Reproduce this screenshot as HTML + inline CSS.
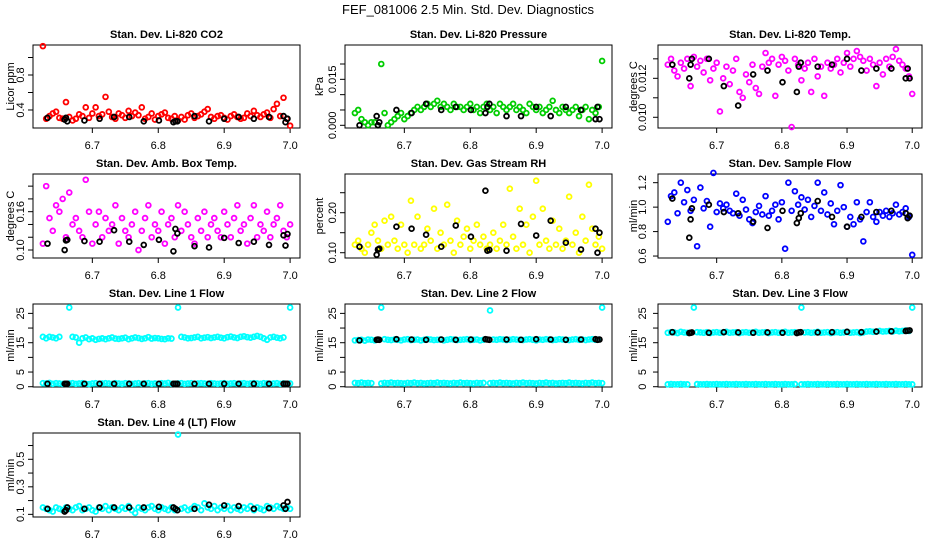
<!DOCTYPE html>
<html><head><meta charset="utf-8"><style>
html,body{margin:0;padding:0;background:#fff;}
svg{display:block;font-family:"Liberation Sans",sans-serif;}
</style></head><body>
<svg id="chart" width="936" height="540" viewBox="0 0 936 540" xmlns="http://www.w3.org/2000/svg">
<rect width="936" height="540" fill="#fff"/>
<text x="468" y="14" text-anchor="middle" font-size="13">FEF_081006  2.5 Min. Std. Dev. Diagnostics</text>
</svg>
<script>
const xs=[6.625,6.630,6.635,6.640,6.645,6.650,6.655,6.660,6.665,6.670,6.675,6.680,6.685,6.690,6.695,6.700,6.705,6.710,6.715,6.720,6.725,6.730,6.735,6.740,6.745,6.750,6.755,6.760,6.765,6.770,6.775,6.780,6.785,6.790,6.795,6.800,6.805,6.810,6.815,6.820,6.825,6.830,6.835,6.840,6.845,6.850,6.855,6.860,6.865,6.870,6.875,6.880,6.885,6.890,6.895,6.900,6.905,6.910,6.915,6.920,6.925,6.930,6.935,6.940,6.945,6.950,6.955,6.960,6.965,6.970,6.975,6.980,6.985,6.990,6.995,7.000];
const bx=[6.632,6.658,6.660,6.662,6.688,6.711,6.733,6.756,6.778,6.801,6.823,6.826,6.829,6.855,6.877,6.900,6.922,6.945,6.968,6.990,6.993,6.996];
const xTicks=[6.7,6.8,6.9,7.0];
const xTickLabels=["6.7","6.8","6.9","7.0"];

const co2=[1.13,0.30,0.33,0.36,0.38,0.31,0.30,0.49,0.32,0.28,0.30,0.35,0.33,0.43,0.31,0.36,0.43,0.33,0.35,0.55,0.38,0.32,0.30,0.36,0.34,0.31,0.39,0.33,0.37,0.34,0.43,0.30,0.32,0.36,0.29,0.33,0.35,0.37,0.31,0.30,0.33,0.28,0.32,0.29,0.34,0.36,0.31,0.33,0.35,0.38,0.41,0.32,0.30,0.33,0.34,0.31,0.29,0.33,0.35,0.32,0.30,0.31,0.36,0.33,0.39,0.34,0.32,0.35,0.37,0.31,0.41,0.47,0.33,0.54,0.30,0.22];
const co2B=[0.31,0.29,0.31,0.27,0.28,0.30,0.32,0.32,0.27,0.28,0.26,0.27,0.27,0.33,0.27,0.30,0.32,0.30,0.32,0.33,0.26,0.30];
const pres=[0.004,0.005,0.002,0.001,0.000,0.001,0.001,0.000,0.020,0.004,0.000,0.001,0.002,0.003,0.004,0.002,0.003,0.004,0.005,0.006,0.005,0.006,0.007,0.006,0.007,0.008,0.006,0.007,0.006,0.005,0.007,0.006,0.006,0.005,0.006,0.007,0.005,0.006,0.004,0.006,0.007,0.005,0.006,0.004,0.007,0.006,0.005,0.006,0.007,0.005,0.006,0.005,0.004,0.007,0.006,0.005,0.006,0.004,0.005,0.006,0.008,0.005,0.004,0.006,0.005,0.004,0.005,0.006,0.003,0.005,0.006,0.002,0.005,0.004,0.006,0.021];
const presB=[0.000,0.003,0.000,0.001,0.005,0.004,0.007,0.005,0.006,0.005,0.004,0.006,0.007,0.003,0.003,0.006,0.003,0.006,0.005,0.002,0.006,0.002];
const ltemp=[0.0127,0.0130,0.0124,0.0121,0.0128,0.0125,0.0130,0.0116,0.0131,0.0126,0.0129,0.0123,0.0130,0.0119,0.0125,0.0128,0.0103,0.0120,0.0126,0.0117,0.0124,0.0130,0.0113,0.0110,0.0122,0.0118,0.0127,0.0115,0.0112,0.0126,0.0133,0.0128,0.0130,0.0111,0.0127,0.0131,0.0129,0.0124,0.0095,0.0130,0.0127,0.0119,0.0125,0.0128,0.0113,0.0130,0.0121,0.0126,0.0111,0.0128,0.0125,0.0127,0.0130,0.0123,0.0128,0.0133,0.0126,0.0130,0.0134,0.0131,0.0129,0.0124,0.0130,0.0127,0.0116,0.0128,0.0122,0.0130,0.0126,0.0131,0.0135,0.0129,0.0127,0.0125,0.0121,0.0112];
const ltempB=[0.0127,0.0120,0.0127,0.0130,0.0130,0.0116,0.0106,0.0122,0.0124,0.0118,0.0113,0.0126,0.0128,0.0126,0.0127,0.0130,0.0124,0.0125,0.0125,0.0120,0.0125,0.0120];
const amb=[0.11,0.20,0.15,0.13,0.17,0.16,0.18,0.12,0.19,0.14,0.15,0.13,0.12,0.21,0.16,0.11,0.14,0.16,0.12,0.15,0.13,0.14,0.17,0.11,0.15,0.13,0.12,0.14,0.16,0.10,0.13,0.15,0.17,0.12,0.14,0.13,0.16,0.11,0.14,0.15,0.12,0.17,0.13,0.16,0.14,0.12,0.11,0.15,0.13,0.16,0.12,0.14,0.15,0.13,0.12,0.16,0.14,0.12,0.15,0.17,0.13,0.14,0.11,0.15,0.17,0.12,0.14,0.13,0.16,0.12,0.14,0.15,0.17,0.13,0.12,0.14];
const ambB=[0.110,0.100,0.115,0.116,0.114,0.113,0.131,0.113,0.108,0.116,0.098,0.133,0.126,0.106,0.104,0.119,0.111,0.113,0.108,0.123,0.107,0.125];
const rh=[0.12,0.13,0.11,0.10,0.12,0.15,0.17,0.13,0.11,0.18,0.12,0.19,0.13,0.11,0.17,0.12,0.10,0.23,0.12,0.19,0.11,0.12,0.16,0.13,0.21,0.11,0.15,0.12,0.22,0.13,0.10,0.18,0.12,0.14,0.16,0.11,0.13,0.17,0.12,0.14,0.11,0.12,0.15,0.11,0.13,0.17,0.12,0.26,0.14,0.11,0.21,0.12,0.17,0.10,0.19,0.28,0.12,0.21,0.13,0.11,0.18,0.12,0.16,0.11,0.13,0.24,0.12,0.15,0.10,0.19,0.13,0.27,0.16,0.12,0.14,0.11];
const rhB=[0.115,0.095,0.108,0.110,0.165,0.160,0.145,0.115,0.168,0.140,0.255,0.105,0.107,0.105,0.172,0.143,0.180,0.125,0.108,0.160,0.100,0.150];
const flow=[0.88,1.09,1.12,0.95,1.20,1.04,1.14,0.97,1.06,0.68,1.16,0.99,1.05,0.84,1.28,0.96,1.03,0.99,1.02,0.97,0.95,1.11,0.93,1.06,0.98,0.90,0.87,0.96,1.01,0.94,1.09,0.93,0.97,1.02,0.90,1.04,0.66,1.20,0.97,1.13,1.02,1.08,0.98,1.06,0.92,1.01,1.20,0.97,1.12,0.94,1.03,0.86,0.97,1.18,1.00,0.84,0.92,0.86,1.04,0.90,0.72,0.96,1.04,0.92,0.88,0.96,0.93,0.97,0.92,0.95,1.02,0.94,0.96,0.99,0.92,0.61];
const flowB=[1.07,0.75,0.90,0.99,1.02,0.96,0.95,0.88,0.83,0.97,0.87,0.91,0.95,1.05,0.92,0.84,0.92,0.96,0.97,0.95,0.91,0.93];
const l1Top=[17,16.5,17,16.8,16.5,17,null,null,27,17,16.8,15,16.5,16.8,16.2,16.5,16,16.3,16.5,16.2,16.5,16.8,16.4,16.3,16.5,16.7,16.2,16.5,16.8,16.6,16.3,16.5,16.9,16.4,16.6,16.5,16.3,16.2,16.5,16.4,null,27,17,16.8,16.5,16.6,16.8,17,16.5,16.7,16.9,16.6,16.8,17,16.7,16.5,16.9,17.1,16.8,16.6,17,17.2,16.9,16.7,17,17.3,17,16.5,16,16.8,17,16.7,16.5,16.8,null,27];
const l1Bot=[1.2,1.1,1.3,1.0,1.2,1.1,1.0,1.0,1.1,1.2,1.0,1.1,1.2,1.0,0.9,1.1,1.2,1.0,1.1,1.2,1.1,1.0,1.2,1.1,1.0,1.2,1.1,1.0,1.1,1.2,1.0,1.1,1.2,1.0,1.1,1.0,1.2,1.1,1.3,1.0,1.0,1.1,1.2,1.0,1.1,1.2,1.0,1.1,1.2,1.1,1.0,1.2,1.1,1.0,1.1,1.2,1.0,1.1,1.2,1.0,1.1,1.2,1.0,1.1,1.2,1.1,1.0,1.2,1.1,1.0,1.1,1.2,1.0,1.1,1.0,1.1];
const l1B=[1.0,1.0,1.0,1.0,1.0,1.0,1.0,1.0,1.0,1.0,1.0,1.0,1.0,1.0,1.0,1.0,1.0,1.0,1.0,1.0,1.0,1.0];
const l2Top=[15.8,15.9,16.0,15.7,16.1,16.0,15.8,null,27,16.2,16.0,15.9,16.1,16.0,15.8,16.1,16.2,15.9,16.0,16.1,15.8,16.0,16.2,16.1,15.9,16.0,16.1,15.8,16.0,16.2,16.1,15.9,16.0,16.1,16.2,15.9,16.0,16.1,15.8,16.0,null,26,16.1,16.0,16.2,16.1,15.9,16.0,16.2,16.1,16.0,15.9,16.1,16.2,16.0,15.8,16.1,16.0,16.2,16.1,15.9,16.0,16.2,16.1,16.0,15.9,16.1,16.2,16.0,16.1,15.9,16.1,16.2,16.0,16.1,27];
const l2Bot=[1.3,1.2,1.4,1.2,1.3,1.2,null,null,1.1,1.3,1.2,1.4,1.2,1.3,1.2,1.1,1.3,1.2,1.4,1.2,1.3,1.1,1.2,1.3,1.2,1.4,1.2,1.3,1.2,1.1,1.3,1.2,1.4,1.2,1.3,1.2,1.1,1.3,1.2,1.3,null,1.2,1.3,1.2,1.4,1.2,1.3,1.2,1.1,1.3,1.2,1.4,1.2,1.3,1.2,1.1,1.3,1.2,1.4,1.2,1.3,1.1,1.2,1.3,1.2,1.4,1.2,1.3,1.2,1.1,1.3,1.2,1.4,1.2,1.3,1.2];
const l2B=[15.8,16.0,16.1,16.0,16.2,16.1,16.0,16.1,16.0,16.1,16.2,16.1,16.0,16.1,16.0,16.2,16.1,16.0,16.1,16.2,16.0,16.1];
const l3Top=[18.4,18.6,18.5,18.3,18.7,18.5,18.4,null,27,18.6,18.5,18.4,18.6,18.3,18.5,18.6,18.4,18.5,18.7,18.4,18.5,18.6,18.3,18.5,18.6,18.4,18.5,18.7,18.4,18.5,18.6,18.3,18.5,18.6,18.4,18.5,18.7,18.4,18.5,18.6,null,27,18.5,18.6,18.4,18.5,18.7,18.4,18.5,18.6,18.3,18.5,18.6,18.4,18.5,18.7,18.4,18.5,18.6,18.3,18.5,18.8,18.9,18.7,18.8,19.0,18.8,18.9,19.0,18.8,19.1,18.9,19.0,19.2,19.0,27];
const l3Bot=[0.8,0.9,0.8,0.8,0.9,0.8,0.8,null,null,0.9,0.8,0.8,0.9,0.8,0.8,0.9,0.8,0.8,0.9,0.8,0.8,0.9,0.8,0.8,0.9,0.8,0.8,0.9,0.8,0.8,0.9,0.8,0.8,0.9,0.8,0.8,0.9,0.8,0.8,0.9,null,0.8,0.8,0.9,0.8,0.8,0.9,0.8,0.8,0.9,0.8,0.8,0.9,0.8,0.8,0.9,0.8,0.8,0.9,0.8,0.8,0.9,0.8,0.8,0.9,0.8,0.8,0.9,0.8,0.8,0.9,0.8,0.8,0.9,0.8,0.8];
const l3B=[18.6,18.3,18.4,18.5,18.4,18.6,18.5,18.4,18.5,18.4,18.3,18.5,18.6,18.5,18.6,18.7,18.6,18.8,18.9,19.0,19.1,19.2];
const l4=[0.15,0.14,0.13,0.12,0.15,0.14,0.13,0.15,0.14,0.13,0.15,0.16,0.13,0.14,0.15,0.13,0.12,0.15,0.14,0.16,0.13,0.15,0.14,0.13,0.15,0.14,0.16,0.13,0.11,0.15,0.14,0.13,0.15,0.16,0.14,0.13,0.15,0.14,0.13,0.15,0.13,0.68,0.14,0.15,0.13,0.14,0.16,0.15,0.13,0.18,0.15,0.14,0.16,0.13,0.15,0.14,0.16,0.13,0.15,0.14,0.13,0.15,0.14,0.16,0.13,0.15,0.14,0.13,0.16,0.15,0.14,0.16,0.15,0.14,0.15,0.14];
const l4B=[0.14,0.12,0.13,0.15,0.14,0.15,0.15,0.15,0.15,0.155,0.15,0.14,0.13,0.14,0.17,0.165,0.16,0.14,0.145,0.165,0.14,0.19];

const cols=[[33,300],[345,612],[658,922]];
const rows=[[45,128],[174,258],[304,387],[433,517]];
const xDom=[6.61,7.015];
const panels=[
 {r:0,c:0,title:"Stan. Dev. Li-820 CO2",ylab:"Licor ppm",dom:[0.194,1.143],ticks:[0.4,0.6,0.8,1.0],labels:{"0.4":"0.4","0.8":"0.8"},series:[[co2,"#ff0000"]],black:co2B,name:"co2"},
 {r:0,c:1,title:"Stan. Dev. Li-820 Pressure",ylab:"kPa",dom:[-0.00088,0.0262],ticks:[0,0.005,0.01,0.015,0.02],labels:{"0":"0.000","0.015":"0.015"},series:[[pres,"#00cd00"]],black:presB,name:"pressure"},
 {r:0,c:2,title:"Stan. Dev. Li-820 Temp.",ylab:"degrees C",dom:[0.00945,0.01371],ticks:[0.010,0.011,0.012,0.013],labels:{"0.01":"0.010","0.012":"0.012"},series:[[ltemp,"#ff00ff"]],black:ltempB,name:"li820-temp"},
 {r:1,c:0,title:"Stan. Dev. Amb. Box Temp.",ylab:"degrees C",dom:[0.0875,0.219],ticks:[0.10,0.12,0.14,0.16,0.18,0.20],labels:{"0.1":"0.10","0.16":"0.16"},series:[[amb,"#ff00ff"]],black:ambB,name:"amb-box-temp"},
 {r:1,c:1,title:"Stan. Dev. Gas Stream RH",ylab:"percent",dom:[0.0868,0.2968],ticks:[0.10,0.15,0.20,0.25],labels:{"0.1":"0.10","0.2":"0.20"},series:[[rh,"#ffff00"]],black:rhB,name:"gas-stream-rh"},
 {r:1,c:2,title:"Stan. Dev. Sample Flow",ylab:"ml/min",dom:[0.584,1.271],ticks:[0.6,0.8,1.0,1.2],labels:{"0.6":"0.6","0.8":"0.8","1":"1.0","1.2":"1.2"},series:[[flow,"#0000ff"]],black:flowB,name:"sample-flow"},
 {r:2,c:0,title:"Stan. Dev. Line 1 Flow",ylab:"ml/min",dom:[-0.1,28.2],ticks:[0,5,10,15,20,25],labels:{"0":"0","5":"5","15":"15","25":"25"},series:[[l1Top,"#00ffff"],[l1Bot,"#00ffff"]],black:l1B,name:"line1-flow"},
 {r:2,c:1,title:"Stan. Dev. Line 2 Flow",ylab:"ml/min",dom:[-0.1,28.2],ticks:[0,5,10,15,20,25],labels:{"0":"0","5":"5","15":"15","25":"25"},series:[[l2Top,"#00ffff"],[l2Bot,"#00ffff"]],black:l2B,name:"line2-flow"},
 {r:2,c:2,title:"Stan. Dev. Line 3 Flow",ylab:"ml/min",dom:[-0.1,28.2],ticks:[0,5,10,15,20,25],labels:{"0":"0","5":"5","15":"15","25":"25"},series:[[l3Top,"#00ffff"],[l3Bot,"#00ffff"]],black:l3B,name:"line3-flow"},
 {r:3,c:0,title:"Stan. Dev. Line 4 (LT) Flow",ylab:"ml/min",dom:[0.0807,0.691],ticks:[0.1,0.2,0.3,0.4,0.5,0.6],labels:{"0.1":"0.1","0.3":"0.3","0.5":"0.5"},series:[[l4,"#00ffff"]],black:l4B,name:"line4-flow"}
];
const svg=document.getElementById('chart');
const NS="http://www.w3.org/2000/svg";
function mk(tag,attrs,parent){const e=document.createElementNS(NS,tag);for(const k in attrs)e.setAttribute(k,attrs[k]);parent.appendChild(e);return e;}
const ylabX=[10,319,633], tlabX=[20,332,642];
panels.forEach(p=>{
  const [x0,x1]=cols[p.c],[y0,y1]=rows[p.r];
  const sx=v=>x0+(v-xDom[0])/(xDom[1]-xDom[0])*(x1-x0);
  const sy=v=>y1-(v-p.dom[0])/(p.dom[1]-p.dom[0])*(y1-y0);
  const g=mk('g',{},svg);
  
  
  const t=mk('text',{x:(x0+x1)/2,y:y0-7,'text-anchor':'middle','font-size':'11','font-weight':'bold'},g);
  
  
  t.textContent=p.title;
  const box=mk('rect',{x:x0,y:y0,width:x1-x0,height:y1-y0,fill:'none',stroke:'#000','stroke-width':'1'},g);
  
  
  xTicks.forEach((v,i)=>{
    const X=sx(v);
    const tk=mk('line',{x1:X,x2:X,y1:y1,y2:y1+5,stroke:'#000'},g);
    
    
    const tl=mk('text',{x:X,y:y1+21,'text-anchor':'middle','font-size':'11'},g);
    
    
    tl.textContent=xTickLabels[i];
  });
  p.ticks.forEach(v=>{
    const Y=sy(v);
    const tk=mk('line',{x1:x0-5,x2:x0,y1:Y,y2:Y,stroke:'#000'},g);
    
    
    const key=String(+v.toFixed(6));
    if(p.labels[key]!==undefined){
      const tl=mk('text',{x:0,y:0,'text-anchor':'middle','font-size':'11',transform:`translate(${tlabX[p.c]+4},${Y}) rotate(-90)`},g);
      
      
      tl.textContent=p.labels[key];
    }
  });
  const yl=mk('text',{x:0,y:0,'text-anchor':'middle','font-size':'11',transform:`translate(${ylabX[p.c]+4},${(y0+y1)/2}) rotate(-90)`},g);
  
  
  yl.textContent=p.ylab;
  p.series.forEach(([vals,col])=>{
    const n=Math.min(xs.length,vals.length);
    for(let i=0;i<n;i++){ if(vals[i]===null)continue;
      const c=mk('circle',{cx:sx(xs[i]),cy:sy(vals[i]),r:2.4,fill:'none',stroke:col,'stroke-width':'1.8'},g);
      
      
    }
  });
  const n=Math.min(bx.length,p.black.length);
  for(let i=0;i<n;i++){
    const c=mk('circle',{cx:sx(bx[i]),cy:sy(p.black[i]),r:2.4,fill:'none',stroke:'#000','stroke-width':'1.8'},g);
    
    
  }
});
</script>
</body></html>
